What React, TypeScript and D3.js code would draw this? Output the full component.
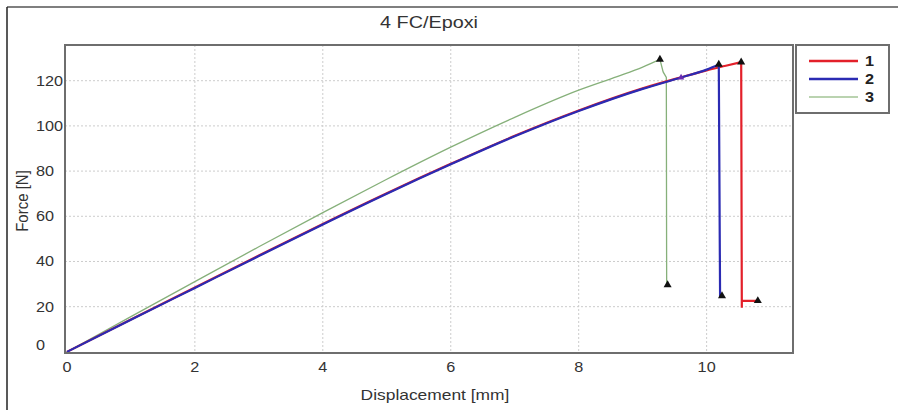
import React from "react";
import * as d3 from "d3";

const title = "4 FC/Epoxi";
const xLabel = "Displacement [mm]";
const yLabel = "Force [N]";
const xTicks = [0, 2, 4, 6, 8, 10];
const yTicks = [0, 20, 40, 60, 80, 100, 120];
const seriesNames = ["1", "2", "3"];
const seriesColors = ["#e3202a", "#2b2bb3", "#86b07a"];
const legendColors = ["#e3202a", "#2b2bb3", "#a3c596"];

// rising parts [x, y]
const rise1: [number, number][] = [
  [0, 0], [1, 14.3], [2, 28.5], [3, 42.6], [4, 56.6], [5, 70.2], [6, 83.2],
  [7, 95.6], [8, 106.8], [9, 116.6], [9.6, 121.5], [10, 124.6], [10.3, 126.6], [10.54, 128.2],
];
const drop1: [number, number][] = [
  [10.54, 128.2], [10.55, 19.5], [10.55, 22.6], [10.8, 22.6],
];
const rise2: [number, number][] = [
  [0, 0], [1, 14.2], [2, 28.3], [3, 42.4], [4, 56.4], [5, 70.0], [6, 83.0],
  [7, 95.4], [8, 106.6], [9, 116.4], [9.6, 121.4], [10, 124.9], [10.19, 127.2],
];
const drop2: [number, number][] = [
  [10.19, 127.2], [10.21, 24.8], [10.24, 24.8],
];
const rise3: [number, number][] = [
  [0, 0], [1, 15.6], [2, 31.1], [3, 46.5], [4, 61.6], [5, 76.4], [6, 90.6],
  [7, 103.8], [8, 115.8], [8.6, 121.8], [9, 126.0], [9.27, 129.4],
];
const drop3: [number, number][] = [
  [9.27, 129.4], [9.32, 123.9], [9.37, 121.5], [9.375, 29.6], [9.39, 29.6],
];
const markers1: [number, number][] = [[10.54, 128.2], [10.8, 22.6]];
const markers2: [number, number][] = [[10.19, 127.2], [10.24, 24.8]];
const markers3: [number, number][] = [[9.27, 129.4], [9.39, 29.6]];
const minorMarker: [number, number][] = [[9.6, 121.4]];

const W = 898;
const H = 410;
const plot = { left: 65, top: 45, right: 793, bottom: 353 };

export default function App() {
  const x = d3.scaleLinear().domain([-0.03, 11.35]).range([plot.left, plot.right]);
  const y = d3.scaleLinear().domain([-0.5, 135.8]).range([plot.bottom, plot.top]);
  const smoothLine = d3
    .line<[number, number]>()
    .x((d) => x(d[0]))
    .y((d) => y(d[1]))
    .curve(d3.curveMonotoneX);
  const straight = d3
    .line<[number, number]>()
    .x((d) => x(d[0]))
    .y((d) => y(d[1]));
  const tri = d3.symbol().type(d3.symbolTriangle).size(28)() || "";
  const triSmall = d3.symbol().type(d3.symbolTriangle).size(18)() || "";

  const series = [
    { rise: rise3, drop: drop3, markers: markers3, color: seriesColors[2], w: 1.3 },
    { rise: rise1, drop: drop1, markers: markers1, color: seriesColors[0], w: 2.2 },
    { rise: rise2, drop: drop2, markers: markers2, color: seriesColors[1], w: 2.2 },
  ];
  const font = "'Liberation Sans', Arial, sans-serif";
  const sx = 1.16;

  return (
    <svg
      width={W}
      height={H}
      style={{ position: "absolute", left: 0, top: 0, background: "#fff" }}
      fontFamily={font}
    >
      <rect x={0} y={0} width={W} height={H} fill="#fff" />
      <line x1={7} y1={7} x2={W} y2={7} stroke="#555" strokeWidth={1.5} />
      <line x1={7} y1={7} x2={7} y2={H} stroke="#222" strokeWidth={1.5} />
      <text transform={`translate(${(plot.left + plot.right) / 2},28) scale(1.2,1)`} textAnchor="middle" fontSize={16.5} fill="#333">
        {title}
      </text>
      {xTicks.filter((t) => t > 0).map((t) => (
        <line key={"gx" + t} x1={x(t)} x2={x(t)} y1={plot.top} y2={plot.bottom}
          stroke="#cccccc" strokeWidth={1} strokeDasharray="2,2" />
      ))}
      {yTicks.filter((t) => t > 0).map((t) => (
        <line key={"gy" + t} x1={plot.left} x2={plot.right} y1={y(t)} y2={y(t)}
          stroke="#cccccc" strokeWidth={1} strokeDasharray="2,2" />
      ))}
      {series.map((s, i) => (
        <g key={i}>
          <path d={smoothLine(s.rise) || ""} fill="none" stroke={s.color} strokeWidth={s.w} />
          <path d={straight(s.drop) || ""} fill="none" stroke={s.color} strokeWidth={s.w} />
        </g>
      ))}
      {series.map((s, i) =>
        s.markers.map((m, j) => (
          <path key={"m" + i + "-" + j} d={tri} transform={`translate(${x(m[0])},${y(m[1])})`} fill="#111" />
        ))
      )}
      {minorMarker.map((m, j) => (
        <path key={"mm" + j} d={triSmall} transform={`translate(${x(m[0])},${y(m[1])})`} fill="#6a2bb0" />
      ))}
      <rect x={plot.left} y={plot.top} width={plot.right - plot.left} height={plot.bottom - plot.top}
        fill="none" stroke="#6e6e6e" strokeWidth={2} />
      {xTicks.map((t) => (
        <text key={"tx" + t} transform={`translate(${x(t)},${plot.bottom + 19}) scale(${sx},1)`} textAnchor="middle" fontSize={14} fill="#333">
          {t}
        </text>
      ))}
      {yTicks.map((t) => (
        <text key={"ty" + t} transform={`translate(36,${y(t) + (t === 0 ? -2 : 5)}) scale(${sx},1)`} textAnchor="start" fontSize={14} fill="#333">
          {t}
        </text>
      ))}
      <text transform={`translate(435,400) scale(${sx},1)`} textAnchor="middle" fontSize={15} fill="#333">{xLabel}</text>
      <text transform={`translate(28,${(plot.top + plot.bottom) / 2 + 2}) rotate(-90) scale(1,${sx})`} textAnchor="middle" fontSize={15} fill="#333">
        {yLabel}
      </text>
      <rect x={796} y={45} width={93} height={68} fill="#fff" stroke="#6e6e6e" strokeWidth={2} />
      {seriesNames.map((n, i) => (
        <g key={"lg" + n}>
          <line x1={809} x2={858} y1={61 + i * 18} y2={61 + i * 18} stroke={legendColors[i]} strokeWidth={i === 2 ? 1.6 : 2.4} />
          <text transform={`translate(865,${66 + i * 18}) scale(${sx},1)`} fontSize={14} fontWeight="bold" fill="#222">{n}</text>
        </g>
      ))}
    </svg>
  );
}
